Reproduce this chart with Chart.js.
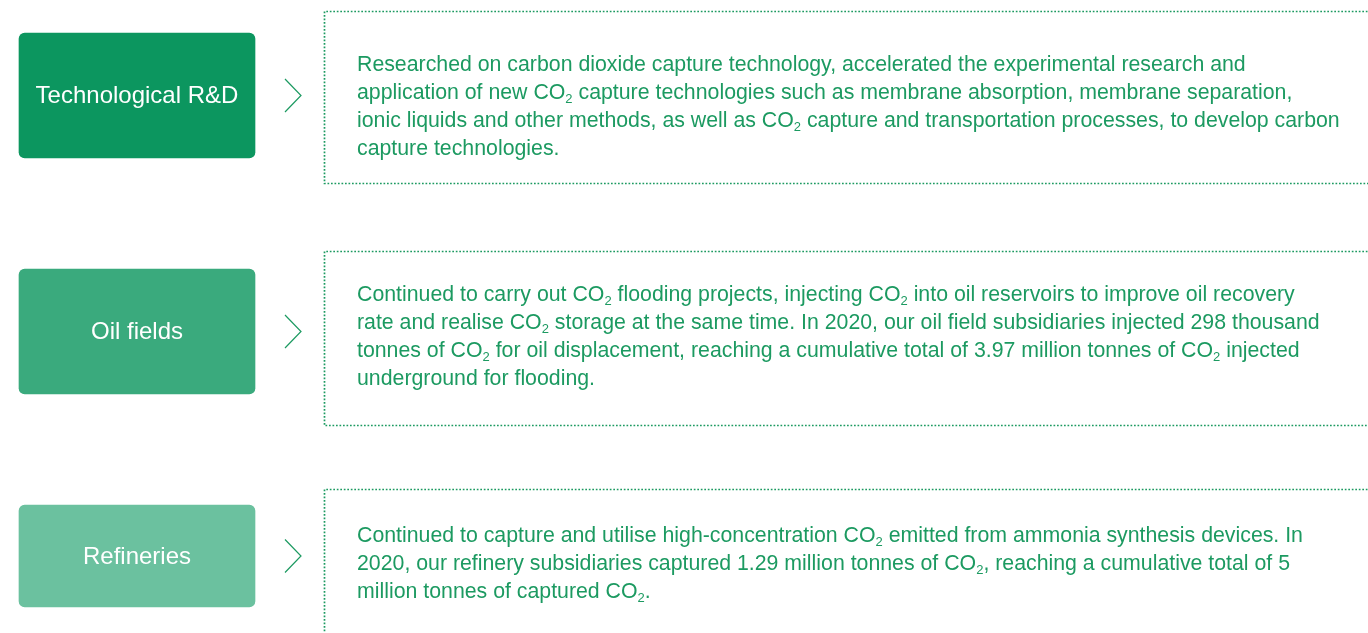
<!DOCTYPE html>
<html>
<head>
<meta charset="utf-8">
<script src="https://cdn.jsdelivr.net/npm/chart.js@4"></script>
<style>
  body { margin: 0; background: #fff; overflow: hidden; }
  #wrap { position: relative; width: 1368px; height: 633px; }
  #chart { position: absolute; left: 0; top: 0; }
  .desc {
    position: absolute;
    left: 357px;
    font-family: "Liberation Sans", Arial, sans-serif;
    font-size: 21.3px;
    line-height: 28px;
    color: #1c9a61;
    white-space: nowrap;
  }
  .desc sub { font-size: 13px; vertical-align: -4px; line-height: 0; }
</style>
</head>
<body>
<div id="wrap">
  <canvas id="chart" width="1368" height="633"></canvas>
</div>
<script>
// categories shown in the green boxes
const categories = ["Technological R&D", "Oil fields", "Refineries"];

// description text, one entry per line as it wraps in the picture
const descTechRD = [
  "Researched on carbon dioxide capture technology, accelerated the experimental research and",
  "application of new CO2 capture technologies such as membrane absorption, membrane separation,",
  "ionic liquids and other methods, as well as CO2 capture and transportation processes, to develop carbon",
  "capture technologies.",
];
const descOilFields = [
  "Continued to carry out CO2 flooding projects, injecting CO2 into oil reservoirs to improve oil recovery",
  "rate and realise CO2 storage at the same time. In 2020, our oil field subsidiaries injected 298 thousand",
  "tonnes of CO2 for oil displacement, reaching a cumulative total of 3.97 million tonnes of CO2 injected",
  "underground for flooding.",
];
const descRefineries = [
  "Continued to capture and utilise high-concentration CO2 emitted from ammonia synthesis devices. In",
  "2020, our refinery subsidiaries captured 1.29 million tonnes of CO2, reaching a cumulative total of 5",
  "million tonnes of captured CO2.",
];
const descriptions = [descTechRD, descOilFields, descRefineries];

// layout (page units, the hidden scales run 0..1368 and 0..633)
const boxColors = ["#0c965f", "#3aaa7d", "#6bc19f"];
const boxSpan = [19, 255];
const boxTops = [33, 269, 505];
const boxHeights = [125, 125, 102];
const frameLeft = 324;
const frameTops = [11, 251, 489];
const frameBottoms = [183, 425, 660];
const textTops = [50, 280, 521];

const datasets = categories.map((name, i) => ({
  label: name,
  data: [{ y: boxTops[i] + boxHeights[i] / 2, x: boxSpan }],
  backgroundColor: boxColors[i],
  barThickness: boxHeights[i],
  borderRadius: 6,
  borderSkipped: false,
  grouped: false,
}));

// draws labels, chevrons and the dotted frames around the descriptions
const decorations = {
  id: "decorations",
  afterDatasetsDraw(chart) {
    const ctx = chart.ctx;
    const xs = chart.scales.x;
    const ys = chart.scales.y;
    ctx.save();
    categories.forEach((name, i) => {
      const bar = chart.getDatasetMeta(i).data[0];
      const cx = (bar.x + bar.base) / 2;

      ctx.fillStyle = "#ffffff";
      ctx.font = '24px "Liberation Sans", Arial, sans-serif';
      ctx.textAlign = "center";
      ctx.textBaseline = "middle";
      ctx.fillText(name, cx, bar.y + 1);

      // chevron
      const chx = bar.x + 30;
      ctx.strokeStyle = "#1c9a61";
      ctx.lineWidth = 1.2;
      ctx.setLineDash([]);
      ctx.beginPath();
      ctx.moveTo(chx, bar.y - 16.5);
      ctx.lineTo(chx + 16, bar.y);
      ctx.lineTo(chx, bar.y + 16.5);
      ctx.stroke();

      // dotted frame (open on the right, runs off the page)
      const left = xs.getPixelForValue(frameLeft) + 0.5;
      const top = ys.getPixelForValue(frameTops[i]) + 0.5;
      const bottom = ys.getPixelForValue(frameBottoms[i]) + 0.5;
      const right = xs.getPixelForValue(1368) + 10;
      ctx.strokeStyle = "#1c9a61";
      ctx.lineWidth = 1.7;
      ctx.setLineDash([1.7, 1.8]);
      ctx.beginPath();
      ctx.moveTo(right, top);
      ctx.lineTo(left, top);
      ctx.lineTo(left, bottom);
      ctx.lineTo(right, bottom);
      ctx.stroke();
    });
    ctx.restore();
  },
};

new Chart(document.getElementById("chart"), {
  type: "bar",
  data: { datasets: datasets },
  options: {
    indexAxis: "y",
    responsive: false,
    animation: false,
    layout: { padding: 0 },
    plugins: { legend: { display: false }, tooltip: { enabled: false } },
    scales: {
      x: { type: "linear", min: 0, max: 1368, display: false, offset: false },
      y: { type: "linear", min: 0, max: 633, reverse: true, display: false, offset: false },
    },
  },
  plugins: [decorations],
});

const wrap = document.getElementById("wrap");
descriptions.forEach((lines, i) => {
  const div = document.createElement("div");
  div.className = "desc";
  div.style.top = textTops[i] + "px";
  div.innerHTML = lines
    .map((l) => l.replace(/&/g, "&amp;").replace(/CO2/g, "CO<sub>2</sub>"))
    .join("<br>");
  wrap.appendChild(div);
});
</script>
</body>
</html>
